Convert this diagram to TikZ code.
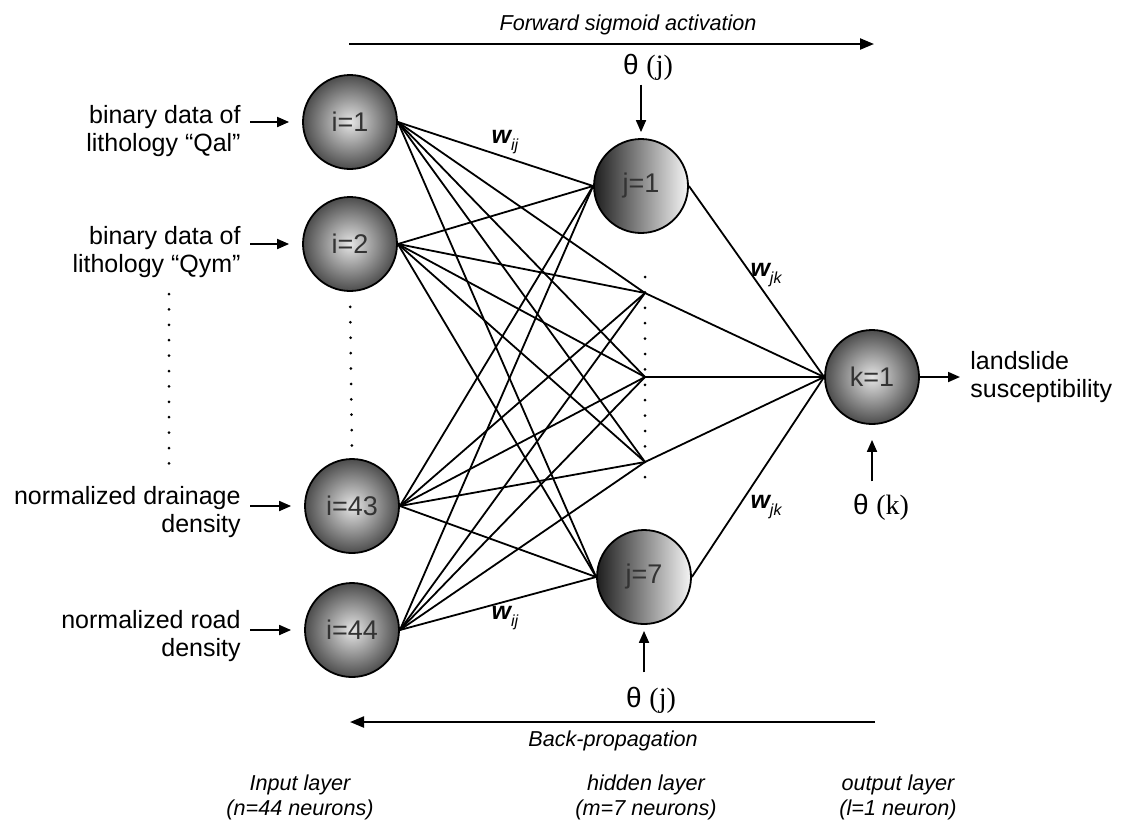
\documentclass[tikz,border=0pt]{standalone}
\usepackage{fontspec}
\setmainfont{Liberation Sans}
\newfontfamily\timesfont{Liberation Serif}
\usetikzlibrary{arrows.meta}
\newcommand{\wght}[1]{{\bfseries\itshape w}\raisebox{-0.5ex}{\fontsize{8}{8}\selectfont\itshape #1}}
\newcommand{\bias}[1]{θ {\timesfont(#1)}}

\tikzset{
  neuron/.style={circle, draw, line width=0.9pt, minimum size=47pt, inner sep=0pt,
    font=\fontsize{13.5}{14}\selectfont, text=black!80},
  inneuron/.style={neuron, inner color=white!90!black, outer color=black!70},
  hidneuron/.style={neuron, left color=black!88, right color=white!96!black},
  wire/.style={line width=0.9pt},
  feed/.style={line width=0.9pt, -{Triangle[length=6pt,width=5pt]}},
  flow/.style={line width=1.1pt, -{Triangle[length=7pt,width=5.5pt]}},
  dotcol/.style={line width=1.5pt, line cap=round, dash pattern=on 0pt off 7.7pt},
  inlabel/.style={font=\fontsize{12.5}{14}\selectfont, inner sep=0pt},
  flowlabel/.style={font=\fontsize{10.8}{12.5}\selectfont\itshape, inner sep=0pt, align=center},
  biaslabel/.style={font=\fontsize{14}{16}\selectfont, inner sep=0pt},
  weight/.style={font=\fontsize{12.5}{14}\selectfont, inner sep=0pt}
}

\begin{document}
\begin{tikzpicture}[x=0.5pt,y=-0.5pt]
    \useasboundingbox (0,0) rectangle (1122,820);

    % input layer
    \node[inneuron] (i1) at (350,122) {i=1};
    \node[inneuron] (i2) at (350,244) {i=2};
    \node[inneuron] (i43) at (352,506) {i=43};
    \node[inneuron] (i44) at (352,630) {i=44};

    % hidden layer
    \node[hidneuron] (j1) at (641,186) {j=1};
    \node[hidneuron] (j7) at (644,577) {j=7};
    \coordinate (h1) at (j1.west);
    \coordinate (h2) at (645,293);
    \coordinate (h3) at (645,377);
    \coordinate (h4) at (645,462);
    \coordinate (h5) at (j7.west);

    % output layer
    \node[inneuron] (k1) at (872,377) {k=1};

    % weights
    \foreach \i in {i1,i2,i43,i44}
        \foreach \h in {h1,h2,h3,h4,h5}
            \draw[wire] (\i.east) -- (\h);
    \draw[wire] (j1.east) -- (k1.west);
    \foreach \h in {h2,h3,h4}
        \draw[wire] (\h) -- (k1.west);
    \draw[wire] (j7.east) -- (k1.west);

    % dotted columns
    \draw[dotcol] (169,294) -- (169,467);
    \draw[dotcol] (i2.south) -- (i43.north) [shorten <=7.5pt, shorten >=3pt];
    \draw[dotcol] (645,277) -- (645,482);

    % inputs
    \node[inlabel, anchor=north east, align=right] (in1) at (241,105) {binary data of\\lithology “Qal”};
    \node[inlabel, anchor=north east, align=right] (in2) at (241,226) {binary data of\\lithology “Qym”};
    \node[inlabel, anchor=north east, align=right] (in43) at (241,486) {normalized drainage\\density};
    \node[inlabel, anchor=north east, align=right] (in44) at (241,610) {normalized road\\density};
    \foreach \n in {1,2,43,44}
        \draw[feed, shorten <=4.5pt, shorten >=6.5pt] (in\n.east |- i\n) -- (i\n);

    % output
    \node[inlabel, anchor=west, align=left] (out) at (970,377) {landslide\\susceptibility};
    \draw[feed, shorten >=5pt] (k1.east) -- (out.west);

    % biases
    \node[biaslabel] (thj1) at (648,67) {\bias{j}};
    \draw[feed, shorten <=2pt, shorten >=3pt] (thj1.south -| j1) -- (j1);
    \node[biaslabel] (thj7) at (651,700) {\bias{j}};
    \draw[feed, shorten <=7pt, shorten >=3pt] (thj7.north -| j7) -- (j7);
    \node[biaslabel] (thk) at (881,507) {\bias{k}};
    \draw[feed, shorten <=6pt, shorten >=7.5pt] (thk.north -| k1) -- (k1);

    % weight labels
    \node[weight] (wij1) at (505,142) {\wght{ij}};
    \node[weight] (wij2) at (505,618) {\wght{ij}};
    \node[weight] (wjk1) at (766,275) {\wght{jk}};
    \node[weight] (wjk2) at (766,507) {\wght{jk}};

    % directions
    \node[flowlabel] (fwd) at (628,25) {Forward sigmoid activation};
    \coordinate (fwdA) at (349,44);
    \coordinate (fwdB) at (874,44);
    \draw[flow] (fwdA) -- (fwdB);
    \coordinate (backA) at (875,722);
    \coordinate (backB) at (350,722);
    \draw[flow] (backA) -- (backB);
    \node[flowlabel] (back) at (613,741) {Back-propagation};

    % layer names
    \node[flowlabel] (lin) at (300,797) {Input layer\\(n=44 neurons)};
    \node[flowlabel] (lhid) at (646,797) {hidden layer\\(m=7 neurons)};
    \node[flowlabel] (lout) at (898,797) {output layer\\(l=1 neuron)};
\end{tikzpicture}
\end{document}
